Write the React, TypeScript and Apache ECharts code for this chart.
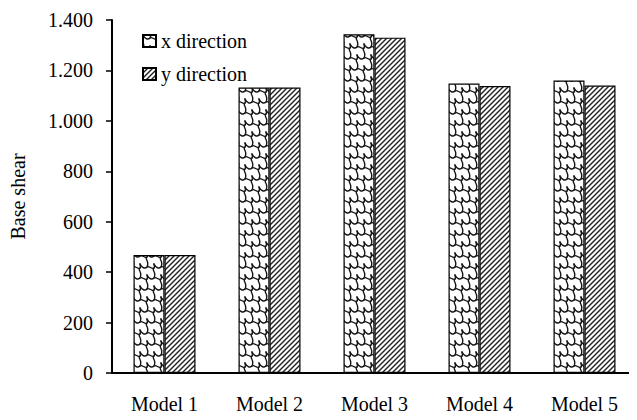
import React, { useEffect, useRef } from "react";
import * as echarts from "echarts";

const categories = ["Model 1", "Model 2", "Model 3", "Model 4", "Model 5"];
const xDirection = [468, 1132, 1343, 1148, 1160];
const yDirection = [468, 1132, 1330, 1138, 1140];
const seriesNames = ["x direction", "y direction"];

const FONT = "'Liberation Serif', 'Times New Roman', serif";

function makeCobblePattern(): HTMLCanvasElement {
  const W = 14, R = 11, H = 22;
  const c = document.createElement("canvas");
  c.width = W; c.height = H;
  const ctx = c.getContext("2d")!;
  ctx.fillStyle = "#fff";
  ctx.fillRect(0, 0, W, H);
  ctx.strokeStyle = "#151515";
  ctx.lineWidth = 1.4;
  ctx.lineCap = "round";
  ctx.lineJoin = "round";
  for (let r = -1; r <= 2; r++) {
    const y0 = r * R;
    const ox = ((r % 2) + 2) % 2 === 1 ? 7 : 0;
    for (let x0 = ox - 28; x0 <= 28; x0 += W) {
      // wavy descending top edge with a bump
      ctx.beginPath();
      ctx.moveTo(x0, y0);
      ctx.bezierCurveTo(x0 + 2, y0 + 4, x0 + 5, y0 + 5, x0 + 7, y0 + 3);
      ctx.bezierCurveTo(x0 + 9, y0 + 1, x0 + 12, y0 + 6, x0 + 14, y0 + 4);
      ctx.bezierCurveTo(x0 + 15, y0 + 3, x0 + 14, y0 + 1, x0 + 14, y0);
      ctx.stroke();
      // S-shaped side edge to next row
      ctx.beginPath();
      ctx.moveTo(x0 + 14, y0 + 4);
      ctx.bezierCurveTo(x0 + 11, y0 + 6, x0 + 17, y0 + 8, x0 + 14, y0 + R + 3);
      ctx.stroke();
    }
  }
  return c;
}

function makeHatchPattern(): HTMLCanvasElement {
  const S = 10;
  const c = document.createElement("canvas");
  c.width = S; c.height = S;
  const ctx = c.getContext("2d")!;
  ctx.fillStyle = "#fff";
  ctx.fillRect(0, 0, S, S);
  ctx.strokeStyle = "#222";
  ctx.lineWidth = 1.4;
  for (let k = -2; k <= 2; k++) {
    ctx.beginPath();
    ctx.moveTo(k * 5 - 1, S + 1);
    ctx.lineTo(k * 5 + S + 1, -1);
    ctx.stroke();
  }
  return c;
}

function fmt(v: number): string {
  if (v >= 1000) {
    const t = Math.floor(v / 1000);
    const r = String(v % 1000).padStart(3, "0");
    return t + "." + r;
  }
  return String(v);
}

export default function App() {
  const ref = useRef<HTMLDivElement>(null);
  useEffect(() => {
    if (!ref.current) return;
    const chart = echarts.init(ref.current, null, { renderer: "svg" });
    const cobble = makeCobblePattern();
    const hatch = makeHatchPattern();
    const pat = (cv: HTMLCanvasElement) => ({
      image: cv.toDataURL(),
      repeat: "repeat",
      imageWidth: cv.width,
      imageHeight: cv.height,
    });
    chart.setOption({
      animation: false,
      backgroundColor: "#fff",
      textStyle: { fontFamily: FONT },
      grid: { left: 112, top: 20, width: 531, bottom: 47 },
      legend: {
        orient: "vertical",
        left: 137,
        top: 25,
        itemWidth: 13,
        itemHeight: 12,
        itemGap: 11,
        icon: "rect",
        textStyle: { fontFamily: FONT, fontSize: 20, color: "#000", lineHeight: 22 },
        data: seriesNames,
      },
      xAxis: {
        type: "category",
        data: categories,
        axisLine: { lineStyle: { color: "#000", width: 2 } },
        axisTick: { show: false },
        axisLabel: { fontFamily: FONT, fontSize: 20, color: "#000", margin: 21 },
      },
      yAxis: {
        type: "value",
        min: 0,
        max: 1400,
        interval: 200,
        name: "Base shear",
        nameLocation: "middle",
        nameGap: 84,
        nameTextStyle: { fontFamily: FONT, fontSize: 20, color: "#000" },
        axisLine: { show: true, lineStyle: { color: "#000", width: 2 } },
        axisTick: { show: true, inside: false, length: 6, lineStyle: { color: "#000", width: 1.5 } },
        splitLine: { show: false },
        axisLabel: { fontFamily: FONT, fontSize: 20, color: "#000", margin: 19, formatter: fmt },
      },
      series: [
        {
          name: seriesNames[0],
          type: "bar",
          data: xDirection,
          barWidth: 31,
          barGap: "0%",
          itemStyle: { color: pat(cobble), borderColor: "#000", borderWidth: 1.2 },
        },
        {
          name: seriesNames[1],
          type: "bar",
          data: yDirection,
          barWidth: 31,
          barGap: "0%",
          itemStyle: { color: pat(hatch), borderColor: "#000", borderWidth: 1.2 },
        },
      ],
    });
    return () => chart.dispose();
  }, []);
  return <div ref={ref} style={{ width: 637, height: 420, margin: -8 }} />;
}
